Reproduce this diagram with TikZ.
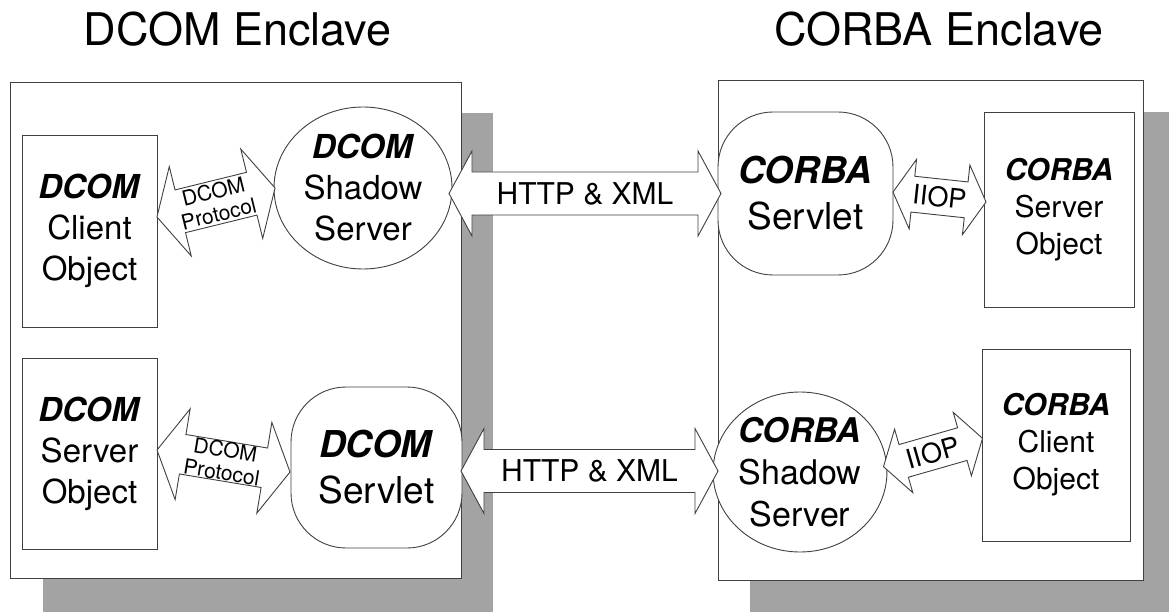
\documentclass[tikz,border=0pt]{standalone}
\usepackage{fontspec}
\setmainfont{TeX Gyre Heros}
\usetikzlibrary{shapes.geometric}

% font size helper: size and leading in pt
\newcommand\fsz[2]{\fontsize{#1}{#2}\selectfont}

\tikzset{
  outline/.style={draw=black!75, line width=0.9pt},
  dropshade/.style={fill=black!36, draw=none},
  enclave/.style={outline, fill=white, rectangle, inner sep=0pt},
  objbox/.style={outline, fill=white, rectangle, inner sep=0pt, align=center},
  servlet/.style={outline, fill=white, rectangle, rounded corners=55pt, inner sep=0pt, align=center},
  shadowsrv/.style={outline, fill=white, ellipse, inner sep=0pt, align=center},
  arrowbody/.style={outline, fill=white, line join=miter},
  title/.style={font=\fsz{45}{54}, anchor=base},
}

% double-headed block arrow: name, centre, angle, half length,
% shaft half width, head half width, head length, font, label
\newcommand\blockarrow[9]{%
  \begin{scope}[shift={#2}, rotate=#3]
    \draw[arrowbody] (-#4,0) -- (-#4+#7,#6) -- (-#4+#7,#5) -- (#4-#7,#5)
      -- (#4-#7,#6) -- (#4,0) -- (#4-#7,-#6) -- (#4-#7,-#5)
      -- (-#4+#7,-#5) -- (-#4+#7,-#6) -- cycle;
    \node[rotate=#3, align=center, inner sep=0pt, font=#8] (#1) at (0,0) {#9};
  \end{scope}%
}

\begin{document}
\begin{tikzpicture}[x=1pt, y=-1pt]
  \useasboundingbox (0,0) rectangle (1169,612);

  % enclave titles
  \node[title] (dtitle) at (237.5,46) {DCOM Enclave};
  \node[title] (ctitle) at (939,46) {CORBA Enclave};

  % drop shadows behind the enclaves
  \fill[dropshade] (43,113) rectangle (493,612);
  \fill[dropshade] (750,112) rectangle (1169,612);

  % enclave frames
  \node[enclave, minimum width=451pt, minimum height=496pt] (denc) at (235.5,330) {};
  \node[enclave, minimum width=425pt, minimum height=500pt] (cenc) at (930.5,330) {};

  % DCOM side
  \node[objbox, minimum width=135pt, minimum height=192pt, font=\fsz{33}{41}]
    (dclient) at (89.5,231) {\textbf{\textit{DCOM}}\\Client\\Object};
  \node[objbox, minimum width=135pt, minimum height=191pt, font=\fsz{33}{41}]
    (dserver) at (89.5,453.5) {\textbf{\textit{DCOM}}\\Server\\Object};
  \node[shadowsrv, minimum width=178pt, minimum height=162pt, font=\fsz{33}{41}]
    (dshadow) at (363,188) {\textbf{\textit{DCOM}}\\Shadow\\Server};
  \node[servlet, minimum width=171pt, minimum height=161pt, font=\fsz{37}{46}]
    (dservlet) at (376.5,467.5) {\textbf{\textit{DCOM}}\\Servlet};

  % CORBA side
  \node[servlet, minimum width=175pt, minimum height=163pt, font=\fsz{37}{46}]
    (cservlet) at (805.5,193.5) {\textbf{\textit{CORBA}}\\Servlet};
  \node[objbox, minimum width=150pt, minimum height=195pt, font=\fsz{30}{37}]
    (cserver) at (1059,209.5) {\textbf{\textit{CORBA}}\\Server\\Object};
  \node[shadowsrv, minimum width=165pt, minimum height=160pt, font=\fsz{34}{42}]
    (cshadow) at (800,472) {\textbf{\textit{CORBA}}\\Shadow\\Server};
  \node[objbox, minimum width=148pt, minimum height=192pt, font=\fsz{30}{37}]
    (cclient) at (1056,445) {\textbf{\textit{CORBA}}\\Client\\Object};

  % protocol arrows
  \blockarrow{dproto1}{(216,202.5)}{13.8}{60.8}{22}{46}{24}{\fsz{21}{23}}{DCOM\\Protocol}
  \blockarrow{dproto2}{(223.5,461)}{-9.4}{67.4}{20}{46}{26}{\fsz{21}{23}}{DCOM\\Protocol}
  \blockarrow{http1}{(585,193.5)}{0}{136}{21.5}{42.5}{23}{\fsz{30}{36}}{HTTP \& XML}
  \blockarrow{http2}{(589.5,471)}{0}{128.5}{21.5}{42.5}{23}{\fsz{30}{36}}{HTTP \& XML}
  \blockarrow{iiop1}{(939.5,197)}{-6.1}{46.8}{18}{35}{20}{\fsz{27}{30}}{IIOP}
  \blockarrow{iiop2}{(933,452.5)}{16}{51.5}{17}{33}{21}{\fsz{27}{30}}{IIOP}
\end{tikzpicture}
\end{document}
